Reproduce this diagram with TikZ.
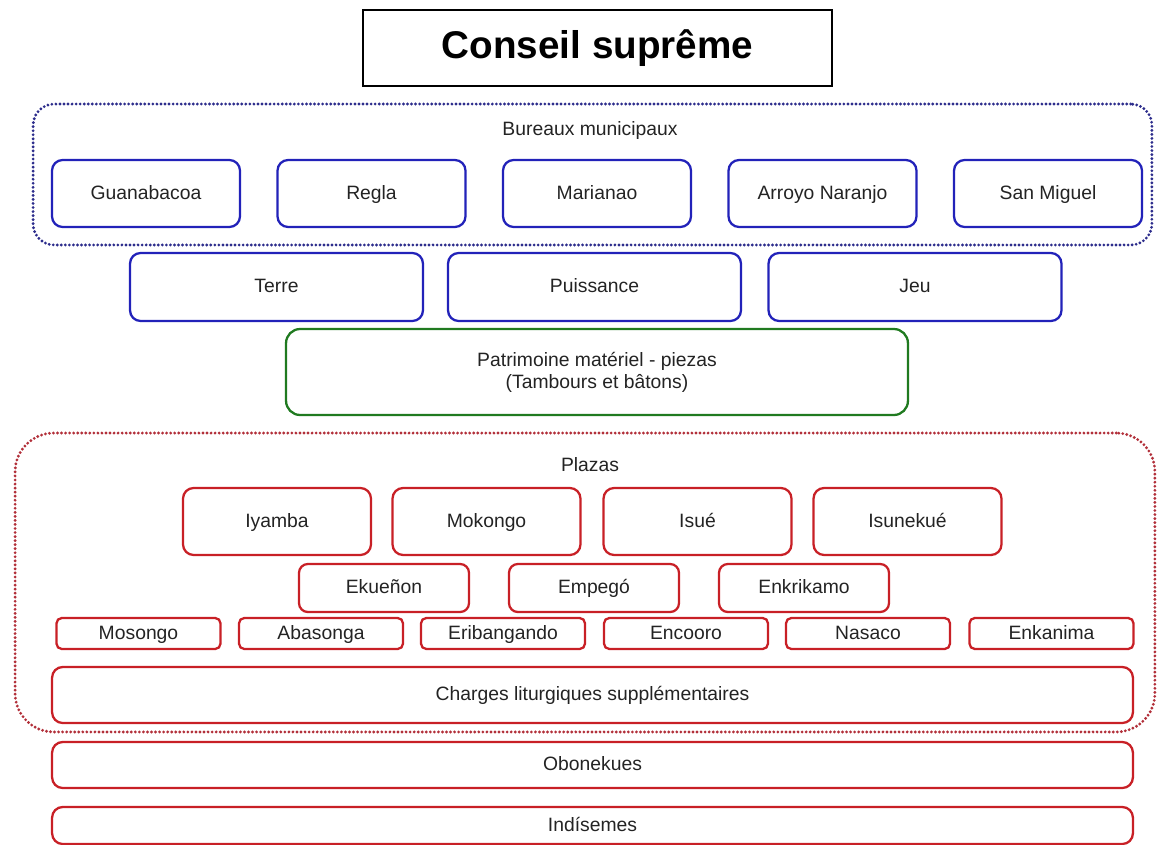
\documentclass[tikz,border=0pt]{standalone}
\usepackage{fontspec}
\setmainfont{Liberation Sans}
\usetikzlibrary{backgrounds}
\definecolor{consBlue}{RGB}{34,34,185}
\definecolor{consNavy}{RGB}{45,45,140}
\definecolor{consRed}{RGB}{200,32,38}
\definecolor{consDot}{RGB}{178,48,58}
\definecolor{consGreen}{RGB}{32,122,32}
\definecolor{consText}{RGB}{35,35,35}

\begin{document}
\begin{tikzpicture}[
  x=0.02cm, y=-0.02cm,
  every node/.style={align=center, font=\fontsize{11}{12.5}\selectfont, text=consText, inner sep=1pt},
  oneline/.style={text height=8.5pt, text depth=1.7pt},
  titlebox/.style={draw=black, line width=1.3pt, minimum width=9.38cm, minimum height=1.52cm,
    font=\fontsize{22}{24}\selectfont\bfseries, text=black},
  bluegroup/.style={draw=consNavy, rounded corners=12pt, line width=1.8pt, line cap=round,
    dash pattern=on 0pt off 2.3pt},
  redgroup/.style={draw=consDot, rounded corners=22pt, line width=1.8pt, line cap=round,
    dash pattern=on 0pt off 2.3pt},
  citybox/.style={oneline, draw=consBlue, rounded corners=6pt, line width=1.3pt,
    minimum width=3.76cm, minimum height=1.34cm},
  powerbox/.style={oneline, draw=consBlue, rounded corners=6pt, line width=1.3pt,
    minimum width=5.86cm, minimum height=1.36cm},
  heritage/.style={draw=consGreen, rounded corners=8pt, line width=1.3pt,
    minimum width=12.44cm, minimum height=1.72cm},
  plaza/.style={oneline, draw=consRed, rounded corners=6pt, line width=1.3pt,
    minimum width=3.76cm, minimum height=1.34cm},
  midplaza/.style={oneline, draw=consRed, rounded corners=5pt, line width=1.3pt,
    minimum width=3.4cm, minimum height=0.96cm},
  smallplaza/.style={oneline, draw=consRed, rounded corners=3pt, line width=1.3pt,
    minimum width=3.28cm, minimum height=0.62cm},
  widebox/.style={oneline, draw=consRed, rounded corners=6pt, line width=1.3pt, minimum width=21.62cm}
]
\useasboundingbox (0,0) rectangle (1157,845);

% - Top -
\node[titlebox] (conseil) at (597.5,48) {Conseil supr\^eme};

% - Bureaux municipaux -
\node[oneline] (bureauxlbl) at (590,130) {Bureaux municipaux};
\node[citybox] (guanabacoa) at (146,193.5) {Guanabacoa};
\node[citybox] (regla) at (371.5,193.5) {Regla};
\node[citybox] (marianao) at (597,193.5) {Marianao};
\node[citybox] (arroyo) at (822.5,193.5) {Arroyo Naranjo};
\node[citybox] (sanmiguel) at (1048,193.5) {San Miguel};

% - Terre, Puissance, Jeu -
\node[powerbox] (terre) at (276.5,287) {Terre};
\node[powerbox] (puissance) at (594.5,287) {Puissance};
\node[powerbox] (jeu) at (915,287) {Jeu};

\node[heritage] (patrimoine) at (597,372) {Patrimoine mat\'eriel - piezas\\(Tambours et b\^atons)};

% - Plazas -
\node[oneline] (plazaslbl) at (590,466) {Plazas};
\node[plaza] (iyamba) at (277,521.5) {Iyamba};
\node[plaza] (mokongo) at (486.5,521.5) {Mokongo};
\node[plaza] (isue) at (697.5,521.5) {Isu\'e};
\node[plaza] (isunekue) at (907.5,521.5) {Isuneku\'e};

\node[midplaza] (ekuenon) at (384,588) {Ekue\~non};
\node[midplaza] (empego) at (594,588) {Empeg\'o};
\node[midplaza] (enkrikamo) at (804,588) {Enkrikamo};

\node[smallplaza] (mosongo) at (138.5,633.5) {Mosongo};
\node[smallplaza] (abasonga) at (321,633.5) {Abasonga};
\node[smallplaza] (eribangando) at (503,633.5) {Eribangando};
\node[smallplaza] (encooro) at (686,633.5) {Encooro};
\node[smallplaza] (nasaco) at (868,633.5) {Nasaco};
\node[smallplaza] (enkanima) at (1051.5,633.5) {Enkanima};

\node[widebox, minimum height=1.12cm] (charges) at (592.5,695) {Charges liturgiques suppl\'ementaires};

% - Bottom -
\node[widebox, minimum height=0.92cm] (obonekues) at (592.5,765) {Obonekues};
\node[widebox, minimum height=0.74cm] (indisemes) at (592.5,825.5) {Ind\'isemes};

\begin{scope}[on background layer]
  \node[bluegroup, minimum width=22.38cm, minimum height=2.82cm] (bureaux) at (592.5,174.5) {};
  \node[redgroup, minimum width=22.8cm, minimum height=5.98cm] (plazas) at (585,582.5) {};
\end{scope}

\end{tikzpicture}
\end{document}
